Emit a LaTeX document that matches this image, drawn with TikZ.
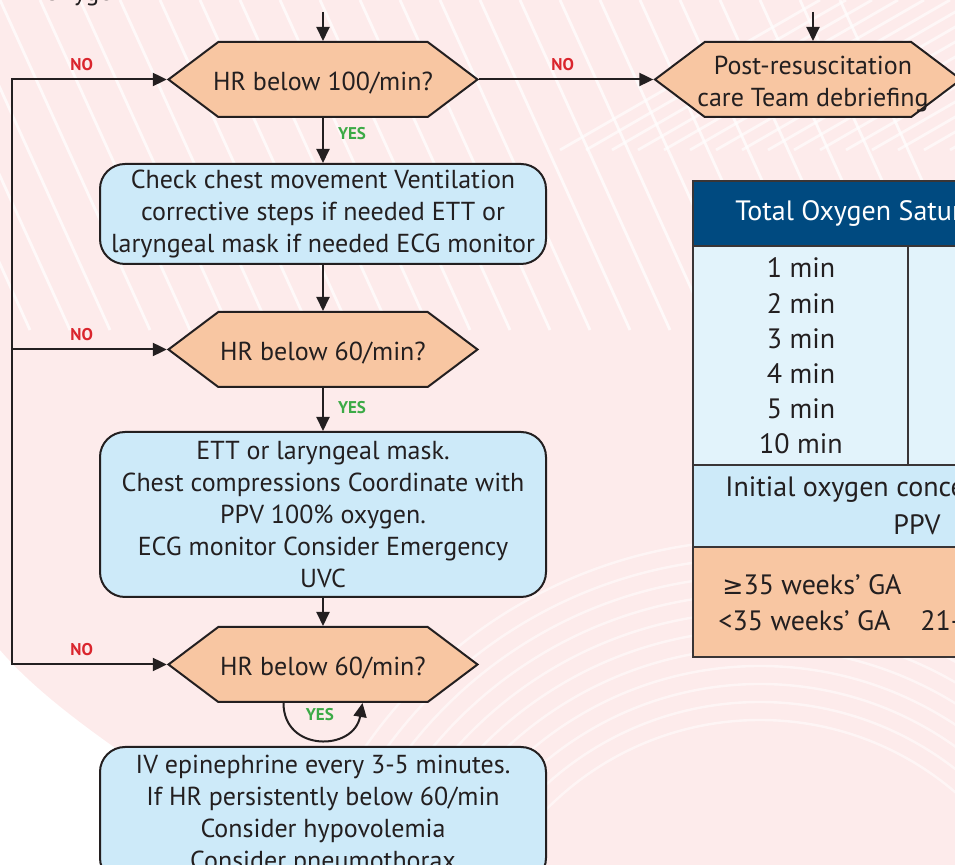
\documentclass[tikz,border=0pt]{standalone}
\usepackage{fontspec}
\setmainfont{PT Sans}
\newfontfamily\symfont[Scale=0.9]{DejaVu Sans}
\usetikzlibrary{positioning,arrows.meta,shapes.symbols}

\definecolor{peach}{RGB}{248,198,162}
\definecolor{boxblue}{RGB}{205,234,249}
\definecolor{rowblue}{RGB}{226,243,251}
\definecolor{headblue}{RGB}{0,74,128}
\definecolor{nored}{RGB}{218,37,45}
\definecolor{yesgreen}{RGB}{60,170,70}
\definecolor{ink}{RGB}{35,31,32}
\definecolor{bgpink}{RGB}{253,235,235}

% text that may run over the edge of its hexagon
\newcommand{\overtext}[1]{\raisebox{-5.2pt}[0pt][0pt]{\makebox[0pt]{\begin{tabular}{@{}c@{}}#1\end{tabular}}}}

\tikzset{
  txt/.style={font=\fontsize{13}{16}\selectfont, text=ink},
  cell/.style={font=\fontsize{14}{16}\selectfont, text=ink, inner sep=0pt},
  decision/.style={txt, signal, signal to=west and east, signal pointer angle=74,
    draw=ink, line width=1pt, fill=peach, minimum width=154.5pt,
    minimum height=37.5pt, inner sep=0pt},
  action/.style={txt, rectangle, rounded corners=12.5pt, draw=ink, line width=1pt,
    fill=boxblue, minimum width=223pt, inner sep=0pt, align=center},
  flow/.style={draw=ink, line width=1pt, -{Triangle[length=7pt,width=6.5pt]}},
  no/.style={font=\bfseries\fontsize{8.5}{10}\selectfont, text=nored, inner sep=0pt},
  yes/.style={font=\bfseries\fontsize{8.5}{10}\selectfont, text=yesgreen, inner sep=0pt},
  grid/.style={draw=ink!90, line width=1.2pt},
}

\begin{document}
\begin{tikzpicture}[x=0.5pt,y=-0.5pt]
  \useasboundingbox (0,0) rectangle (955,865);
  \clip (0,0) rectangle (955,865);

  %% faint sketch behind the chart
  \fill[bgpink] (0,0) -- (955,0) -- (955,865) -- (290,865)
    .. controls (180,790) and (60,720) .. (0,650) -- cycle;
  \foreach \r in {300,318,...,480}
    \draw[white, line width=1.2pt, opacity=.55] (760,1020) circle[radius=\r];
  \foreach \k in {0,1,...,24}
    \draw[white, line width=1.4pt, opacity=.7] (\k*40-120,0) -- ++(150,330);
  \foreach \k in {0,1,...,16}
    \draw[white, line width=1.4pt, opacity=.6] (560+\k*26,150) -- ++(260,-150);

  %% text cut at the top edge
  \node[txt, inner sep=0pt, anchor=base west] (oxy) at (43,1) {Oxygen};

  %% flow chart
  \node[decision] (hr1) at (323,79.5) {\overtext{HR below 100/min?}};
  \node[action, minimum height=50pt, below=22.5pt of hr1] (chk)
    {Check chest movement Ventilation\\corrective steps if needed ETT or\\laryngeal mask if needed ECG monitor};
  \node[decision, below=23pt of chk] (hr2) {\overtext{HR below 60/min?}};
  \node[action, minimum height=82.5pt, below=21.5pt of hr2] (cc)
    {ETT or laryngeal mask.\\Chest compressions Coordinate with\\PPV 100\% oxygen.\\ECG monitor Consider Emergency\\UVC};
  \node[decision, below=14pt of cc] (hr3) {\overtext{HR below 60/min?}};
  \node[action, minimum height=68pt, below=21.5pt of hr3] (epi)
    {IV epinephrine every 3-5 minutes.\\If HR persistently below 60/min\\Consider hypovolemia\\Consider pneumothorax};
  \node[decision, minimum width=153pt] (post) at (808,79.5)
    {\overtext{\hspace{5pt}Post-resuscitation\\\hspace{5pt}care Team debriefing}};

  \coordinate (in1) at (323,12);
  \coordinate (in2) at (813,12);
  \coordinate (lp) at (12,0);

  \draw[flow] (in1) -- (hr1.north);
  \draw[flow] (in2) -- (in2 |- post.north);
  \draw[flow] (hr1.east) -- node[no, above=4pt, pos=0.48] {NO} (post.west);
  \draw[flow] (hr1.south) -- node[yes, right=7pt, pos=0.35] {YES} (chk.north);
  \draw[flow] (chk.south) -- (hr2.north);
  \draw[flow] (hr2.south) -- node[yes, right=7pt, pos=0.45] {YES} (cc.north);
  \draw[flow] (cc.south) -- (hr3.north);
  \draw[flow] ([xshift=-19.75pt]hr3.south) to[out=-90, in=-100, looseness=1.6]
    node[yes, above=9pt] {YES} ([xshift=19.75pt]hr3.south);
  % NO branches come back in from the left
  \draw[flow, {Triangle[length=7pt,width=6.5pt]}-{Triangle[length=7pt,width=6.5pt]}]
    (hr1.west) -- node[no, above=4pt, pos=0.55] {NO} (lp |- hr1.west)
    -- (lp |- hr3.west) -- node[no, above=4pt, pos=0.45] {NO} (hr3.west);
  \draw[flow] (lp |- hr2.west) -- node[no, above=4pt, pos=0.45] {NO} (hr2.west);

  %% saturation table
  \fill[headblue] (693,181) rectangle (1140,246);
  \fill[rowblue] (693,246) rectangle (1140,465);
  \fill[boxblue] (693,465) rectangle (1140,547);
  \fill[peach] (693,547) rectangle (1140,657);
  \draw[grid] (693,181) rectangle (1140,657);
  \draw[grid] (693,246) -- (1140,246) (693,465) -- (1140,465) (693,547) -- (1140,547);
  \draw[grid] (908,246) -- (908,465);

  \node[cell, text=white, anchor=west] (head) at (735,214) {Total Oxygen Saturation};
  \foreach \t [count=\i] in {1,2,3,4,5,10}
    \node[cell] (m\i) at (801,{268+35.2*(\i-1)}) {\t\ min};
  \node[cell, anchor=west] (init) at (725,490) {Initial oxygen concentration for};
  \node[cell] (ppv) at (917,525) {PPV};
  \node[cell, anchor=west] (ga1) at (722,585) {{\symfont ≥}35 weeks’ GA};
  \node[cell, anchor=west] (ga2) at (718,621) {<35 weeks’ GA};
  \node[cell, anchor=west] (fio) at (920,621) {21-30\%};
\end{tikzpicture}
\end{document}
